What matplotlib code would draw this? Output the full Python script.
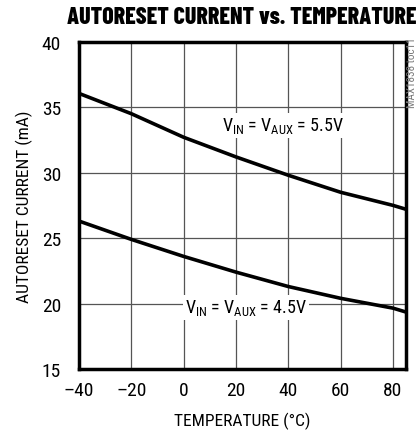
import matplotlib
matplotlib.use("Agg")
import matplotlib.pyplot as plt
from matplotlib import font_manager

temp = [-40, -20, 0, 20, 40, 60, 80, 85]
i_55 = [36.05, 34.5, 32.7, 31.2, 29.8, 28.5, 27.5, 27.2]
i_45 = [26.3, 24.9, 23.6, 22.4, 21.3, 20.4, 19.65, 19.35]
xticks = [-40, -20, 0, 20, 40, 60, 80]
yticks = [15, 20, 25, 30, 35, 40]

names = {f.name for f in font_manager.fontManager.ttflist}
def pick(cands, default):
    for c in cands:
        if c in names:
            return c
    return default

fam = pick(["Liberation Sans Narrow", "Roboto Condensed", "Archivo Narrow",
            "Barlow Semi Condensed", "Asap Condensed"], "DejaVu Sans")
tfam = pick(["Barlow Condensed", "Roboto Condensed", "Archivo Narrow"], fam)

plt.rcParams['font.family'] = [fam, 'DejaVu Sans']
plt.rcParams['mathtext.fontset'] = 'custom'
plt.rcParams['mathtext.rm'] = fam
plt.rcParams['mathtext.it'] = fam

fig = plt.figure(figsize=(4.19, 4.35), dpi=100)
ax = fig.add_axes([79/419, 1-370/435, (406-79)/419, (370-42.7)/435])

ax.plot(temp, i_55, color='black', lw=2.6, solid_capstyle='butt', zorder=3)
ax.plot(temp, i_45, color='black', lw=2.6, solid_capstyle='butt', zorder=3)

ax.set_xlim(-40, 85)
ax.set_ylim(15, 40)
ax.set_xticks(xticks)
ax.set_yticks(yticks)
ax.set_xticklabels([str(v).replace('-', '\u2013') for v in xticks])
ax.tick_params(length=0, labelsize=14)
ax.tick_params(axis='y', pad=13)
ax.tick_params(axis='x', pad=9)
ax.grid(True, color='#555555', lw=0.9)
for s in ax.spines.values():
    s.set_linewidth(2.5)

ax.set_xlabel('TEMPERATURE (°C)', fontsize=12.5, labelpad=9)
ax.set_ylabel('AUTORESET CURRENT (mA)', fontsize=12.5, labelpad=6)
fig.text(0.576, 0.958, 'AUTORESET CURRENT vs. TEMPERATURE', ha='center', va='center',
         fontsize=17.2, fontweight='heavy', family=[tfam, 'DejaVu Sans'])

lab = r'V$_{\mathrm{IN}}$ = V$_{\mathrm{AUX}}$ = %s'
ax.text(14.8, 33.6, lab % '5.5V', fontsize=13, va='center', ha='left', zorder=4,
        bbox=dict(facecolor='white', edgecolor='none', pad=1.5))
ax.text(0.7, 19.7, lab % '4.5V', fontsize=13, va='center', ha='left', zorder=4,
        bbox=dict(facecolor='white', edgecolor='none', pad=1.5))

fig.text(412/419, 1-73/435, 'MAX1838 toc11', rotation=90, fontsize=8, color='#777777',
         ha='center', va='center')

fig.savefig('out.png', dpi=100)
